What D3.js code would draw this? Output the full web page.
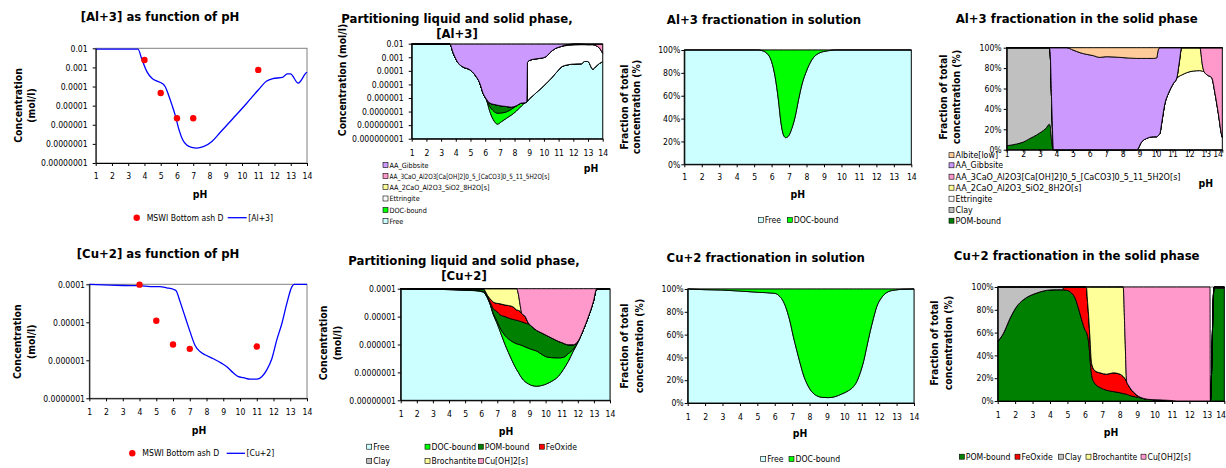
<!DOCTYPE html>
<html lang="en">
<head>
<meta charset="UTF-8">
<title>Al+3 and Cu+2 as function of pH</title>
<style>
body { margin: 0; background: #fff; }
svg text { font-family: "DejaVu Sans Condensed", "DejaVu Sans", sans-serif; fill: #000; }
.title { font-size: 13px; font-weight: bold; }
.axis-title { font-size: 10.4px; font-weight: bold; }
.tick-label { font-size: 8.6px; }
.legend-label { font-size: 8.6px; }
</style>
</head>
<body>
<div id="chart"></div>
<script src="https://cdnjs.cloudflare.com/ajax/libs/d3/7.8.5/d3.min.js"></script>
<script>
// ---------- data ----------
var pHTicks = [1, 2, 3, 4, 5, 6, 7, 8, 9, 10, 11, 12, 13, 14];
var pctTicks = [0, 20, 40, 60, 80, 100];
var pctTickLabels = ["0%", "20%", "40%", "60%", "80%", "100%"];

// [Al+3] as function of pH
var alConcTicks = [1e-2, 1e-3, 1e-4, 1e-5, 1e-6, 1e-7, 1e-8];
var alConcTickLabels = ["0.01", "0.001", "0.0001", "0.00001", "0.000001", "0.0000001", "0.00000001"];
var alLinePH = [1, 3.6, 3.85, 4.15, 4.46, 4.77, 5.07, 5.28, 5.48, 5.69, 5.89, 6.1, 6.36, 6.6, 6.91, 7.21, 7.62, 8.13, 8.64, 9.46, 10.28, 11.0, 11.5, 11.9, 12.5, 12.78, 12.98, 13.46, 13.97, 14];
var alLineConc = [9e-3, 9e-3, 2.5e-3, 6.0e-4, 2.7e-4, 1.9e-4, 1.5e-4, 9.8e-5, 3.6e-5, 1.1e-5, 3.2e-6, 6.5e-7, 1.6e-7, 8.7e-8, 6.6e-8, 6.0e-8, 7.1e-8, 1.3e-7, 3.8e-7, 2.2e-6, 1.3e-5, 6.6e-5, 1.9e-4, 2.6e-4, 3.0e-4, 4.6e-4, 4.6e-4, 1.5e-4, 5.4e-4, 5.6e-4];
var alMeasPH = [4, 5, 6, 7, 11];
var alMeasConc = [2.45e-3, 4.6e-5, 2.2e-6, 2.2e-6, 7.4e-4];

// Partitioning liquid and solid phase, [Al+3]  (mol/l per species)
var alPartTicks = [1e-2, 1e-3, 1e-4, 1e-5, 1e-6, 1e-7, 1e-8, 1e-9];
var alPartTickLabels = ["0.01", "0.001", "0.0001", "0.00001", "0.000001", "0.0000001", "0.00000001", "0.000000001"];
var alPartPH = [1, 2, 3, 3.6, 3.83, 4.17, 4.51, 4.96, 5.3, 5.64, 5.86, 6.09, 6.32, 6.54, 6.84, 7.11, 7.45, 7.79, 8.13, 8.47, 8.7, 8.84, 8.88, 9.03, 9.37, 9.82, 10.16, 10.5, 10.84, 11.18, 11.63, 12.09, 12.54, 12.76, 12.99, 13.33, 13.55, 13.78, 14];
var alPartFree = [9.2e-3, 9.2e-3, 9.2e-3, 9.2e-3, 2.0e-3, 3.7e-4, 1.9e-4, 1.2e-4, 5.1e-5, 1.2e-5, 2.2e-6, 7.2e-7, 1.0e-7, 2.7e-8, 1.2e-8, 1.8e-8, 3.2e-8, 5.6e-8, 1.1e-7, 2.6e-7, 4.4e-7, 5.5e-7, 6.0e-7, 9.3e-7, 1.9e-6, 5.4e-6, 1.2e-5, 2.9e-5, 7.4e-5, 1.9e-4, 2.8e-4, 3.2e-4, 3.3e-4, 4.9e-4, 4.9e-4, 1.35e-4, 2.2e-4, 3.5e-4, 4.9e-4];
var alPartDOC = [0, 0, 0, 0, 0, 0, 0, 0, 0, 0, 0, 5e-8, 1.3e-7, 9e-8, 6.4e-8, 6.1e-8, 6.3e-8, 9.4e-8, 1.5e-7, 1.6e-7, 0, 0, 0, 0, 0, 0, 0, 0, 0, 0, 0, 0, 0, 0, 0, 0, 0, 0, 0];
var alPartPOM = [0, 0, 0, 0, 0, 0, 0, 0, 0, 0, 0, 5e-8, 1.9e-7, 2.3e-7, 2.2e-7, 1.8e-7, 1.4e-7, 6e-8, 1e-8, 0, 0, 0, 0, 0, 0, 0, 0, 0, 0, 0, 0, 0, 0, 0, 0, 0, 0, 0, 0];
var alPartEtt = [0, 0, 0, 0, 0, 0, 0, 0, 0, 0, 0, 0, 0, 0, 0, 0, 0, 0, 0, 0, 0, 0, 4.2e-4, 5.9e-4, 7.4e-4, 8.6e-4, 1.14e-3, 2.7e-3, 4.7e-3, 6.1e-3, 7.3e-3, 8.0e-3, 8.2e-3, 8.0e-3, 8.0e-3, 8.4e-3, 6.9e-3, 4.4e-3, 1.5e-3];
var alPart2CaO = [0, 0, 0, 0, 0, 0, 0, 0, 0, 0, 0, 0, 0, 0, 0, 0, 0, 0, 0, 0, 0, 0, 0, 0, 0, 0, 0, 0, 0, 0, 1.1e-3, 0.9e-3, 0.7e-3, 0.4e-3, 0, 0, 0, 0, 0];
var alPart3CaO = [0, 0, 0, 0, 0, 0, 0, 0, 0, 0, 0, 0, 0, 0, 0, 0, 0, 0, 0, 0, 0, 0, 0, 0, 0, 0, 0, 0, 0, 0, 0, 0, 0, 0.3e-3, 0.7e-3, 0.66e-3, 2.1e-3, 4.4e-3, 7.2e-3];
var alPartGibbsite = [0, 0, 0, 0, 7.2e-3, 8.83e-3, 9.0e-3, 9.08e-3, 9.15e-3, 9.19e-3, 9.2e-3, 9.2e-3, 9.2e-3, 9.2e-3, 9.2e-3, 9.2e-3, 9.2e-3, 9.2e-3, 9.2e-3, 9.2e-3, 9.2e-3, 9.2e-3, 8.78e-3, 8.6e-3, 8.46e-3, 8.33e-3, 8.05e-3, 6.5e-3, 4.4e-3, 2.9e-3, 0.5e-3, 0, 0, 0, 0, 0, 0, 0, 0];

// Al+3 fractionation in solution (%)
var alSolPH = [1, 5.2, 5.44, 5.82, 6.0, 6.2, 6.39, 6.54, 6.68, 6.81, 6.97, 7.16, 7.35, 7.54, 7.73, 8.02, 8.3, 8.69, 9.26, 9.64, 14];
var alSolFree = [100, 100, 99.5, 95.6, 89.8, 76.7, 56.3, 35.9, 25.7, 23.3, 24.8, 31.5, 41.7, 56.3, 69.4, 82.5, 91.3, 97.1, 99.4, 100, 100];
var alSolDOC = [0, 0, 0.5, 4.4, 10.2, 23.3, 43.7, 64.1, 74.3, 76.7, 75.2, 68.5, 58.3, 43.7, 30.6, 17.5, 8.7, 2.9, 0.6, 0, 0];

// Al+3 fractionation in the solid phase (%)
var alSolidPH = [1, 1.6, 2.0, 2.4, 2.8, 3.1, 3.37, 3.57, 3.62, 3.72, 3.82, 4.6, 5.0, 5.42, 5.82, 6.22, 6.62, 7.0, 7.83, 8.84, 9.14, 9.44, 9.84, 10.04, 10.14, 10.24, 10.34, 10.54, 10.75, 11.05, 11.25, 11.4, 11.55, 11.85, 12.25, 12.65, 12.8, 12.9, 13.1, 13.36, 13.56, 13.76, 13.96, 14];
var alSolidPOM = [3.9, 5.6, 7.5, 11, 14.4, 17.6, 21, 25, 23.5, 7, 0, 0, 0, 0, 0, 0, 0, 0, 0, 0, 0, 0, 0, 0, 0, 0, 0, 0, 0, 0, 0, 0, 0, 0, 0, 0, 0, 0, 0, 0, 0, 0, 0, 0];
var alSolidClay = [96.1, 94.4, 92.5, 89, 85.6, 82.4, 79, 75, 71.5, 35, 0, 0, 0, 0, 0, 0, 0, 0, 0, 0, 0, 0, 0, 0, 0, 0, 0, 0, 0, 0, 0, 0, 0, 0, 0, 0, 0, 0, 0, 0, 0, 0, 0, 0];
var alSolidEtt = [0, 0, 0, 0, 0, 0, 0, 0, 0, 0, 0, 0, 0, 0, 0, 0, 0, 0, 0, 0, 7.8, 11.1, 12.7, 12.7, 14, 16, 25.8, 45.4, 55.2, 65, 70, 72, 73.2, 75.5, 77.1, 77.5, 77, 76.5, 73.2, 70.6, 55.2, 35.6, 14.4, 12];
var alSolid2CaO = [0, 0, 0, 0, 0, 0, 0, 0, 0, 0, 0, 0, 0, 0, 0, 0, 0, 0, 0, 0, 0, 0, 0, 0, 0, 0, 0, 0, 0, 0, 0, 13, 26.8, 24.5, 22.9, 22.5, 6, 0, 0, 0, 0, 0, 0, 0];
var alSolid3CaO = [0, 0, 0, 0, 0, 0, 0, 0, 0, 0, 0, 0, 0, 0, 0, 0, 0, 0, 0, 0, 0, 0, 0, 0, 0, 0, 0, 0, 0, 0, 0, 0, 0, 0, 0, 0, 17, 23.5, 26.8, 29.4, 44.8, 64.4, 85.6, 88];
var alSolidGibbsite = [0, 0, 0, 0, 0, 0, 0, 0, 5, 58, 100, 100, 97.7, 95.1, 93.5, 92.2, 90.5, 91.2, 90.5, 89.5, 81.7, 78.4, 76.8, 77.3, 84, 84, 74.2, 54.6, 44.8, 35, 30, 15, 0, 0, 0, 0, 0, 0, 0, 0, 0, 0, 0, 0];
var alSolidAlbite = [0, 0, 0, 0, 0, 0, 0, 0, 0, 0, 0, 0, 2.3, 4.9, 6.5, 7.8, 9.5, 8.8, 9.5, 10.5, 10.5, 10.5, 10.5, 10, 2, 0, 0, 0, 0, 0, 0, 0, 0, 0, 0, 0, 0, 0, 0, 0, 0, 0, 0, 0];

// [Cu+2] as function of pH
var cuConcTicks = [1e-4, 1e-5, 1e-6, 1e-7];
var cuConcTickLabels = ["0.0001", "0.00001", "0.000001", "0.0000001"];
var cuLinePH = [1, 2.24, 3.03, 4.03, 4.63, 5.22, 5.62, 6.02, 6.18, 6.42, 6.72, 7.02, 7.31, 7.61, 7.91, 8.41, 8.91, 9.21, 9.61, 9.9, 10.2, 10.6, 11.0, 11.3, 11.6, 11.9, 12.2, 12.5, 12.8, 13.1, 13.23, 14];
var cuLineConc = [1.0e-4, 9.5e-5, 9.3e-5, 9.2e-5, 8.7e-5, 8.7e-5, 8.1e-5, 7.4e-5, 6.8e-5, 3.5e-5, 1.4e-5, 5.6e-6, 2.5e-6, 1.7e-6, 1.4e-6, 1.1e-6, 8.3e-7, 6.8e-7, 4.6e-7, 3.7e-7, 3.5e-7, 3.2e-7, 3.2e-7, 3.7e-7, 5.6e-7, 1.1e-6, 3.5e-6, 9.3e-6, 3.2e-5, 8.7e-5, 1.0e-4, 1.0e-4];
var cuMeasPH = [4, 5, 6, 7, 11];
var cuMeasConc = [9.8e-5, 1.1e-5, 2.6e-6, 2.0e-6, 2.3e-6];

// Partitioning liquid and solid phase, [Cu+2]  (umol/l per species)
var cuPartTicks = [1e-4, 1e-5, 1e-6, 1e-7, 1e-8];
var cuPartTickLabels = ["0.0001", "0.00001", "0.000001", "0.0000001", "0.00000001"];
var cuPartPH = [1, 2, 3.13, 4.79, 5.62, 6.13, 6.28, 6.4, 6.55, 6.76, 6.96, 7.17, 7.48, 7.69, 8.0, 8.2, 8.31, 8.41, 8.52, 8.72, 8.93, 9.14, 9.45, 9.76, 10.07, 10.38, 10.79, 11.1, 11.41, 11.72, 12.04, 12.35, 12.66, 12.97, 13.17, 14];
var cuPartFree = [99.6, 97.8, 96, 89, 85, 76, 60, 45, 28, 11.5, 6.2, 3.0, 1.0, 0.52, 0.21, 0.126, 0.1, 0.079, 0.063, 0.047, 0.039, 0.034, 0.032, 0.034, 0.039, 0.048, 0.072, 0.126, 0.25, 0.58, 1.3, 3.4, 10, 35, 98, 100];
var cuPartDOC = [0, 0.6, 1.5, 2.2, 2.5, 3, 2.5, 2, 1.5, 1.2, 1.2, 1.0, 1.1, 1.08, 0.99, 0.94, 0.92, 0.9, 0.87, 0.78, 0.70, 0.63, 0.55, 0.41, 0.32, 0.29, 0.26, 0.22, 0.22, 0.1, 0.05, 0.03, 0, 0, 0, 0];
var cuPartPOM = [0.2, 1.2, 2.3, 8.5, 12, 17, 10, 6, 4, 6.3, 8.1, 7.7, 7.9, 7.3, 6.7, 6.33, 6.1, 5.8, 5.6, 5.07, 4.66, 3.8, 2.6, 2.15, 1.74, 1.36, 0.97, 0.77, 0.51, 0.3, 0.05, 0.02, 0, 0, 0, 0];
var cuPartFe = [0, 0, 0, 0.2, 0.4, 3.8, 3, 3.5, 10, 14, 14.5, 17.1, 16, 16.1, 14, 10, 9.5, 8.7, 6.5, 4.4, 0.5, 0, 0, 0, 0, 0, 0, 0, 0, 0, 0, 0, 0, 0, 0, 0];
var cuPartClay = [0.2, 0.4, 0.2, 0.1, 0.1, 0.2, 0, 0, 0, 0, 0, 0, 0, 0, 0, 0, 0, 0, 0, 0, 0, 0, 0, 0, 0, 0, 0, 0, 0, 0, 0, 0, 0, 0, 0, 0];
var cuPartBroch = [0, 0, 0, 0, 0, 0, 24.5, 43.5, 56.5, 67, 70, 71.2, 74, 75, 78.1, 82.6, 46.4, 12.5, 0, 0, 0, 0, 0, 0, 0, 0, 0, 0, 0, 0, 0, 0, 0, 0, 0, 0];
var cuPartCuOH = [0, 0, 0, 0, 0, 0, 0, 0, 0, 0, 0, 0, 0, 0, 0, 0, 37, 72, 87, 89.7, 94.1, 95.5, 96.8, 97.4, 97.9, 98.3, 98.7, 98.9, 99.0, 99.0, 98.6, 96.55, 90, 65, 2, 0];

// Cu+2 fractionation in solution (%)
var cuSolPH = [1, 2, 2.95, 4, 5.06, 6, 6.3, 6.5, 6.69, 6.88, 7.07, 7.26, 7.46, 7.65, 7.84, 8.13, 8.41, 8.7, 9.08, 9.47, 9.85, 10.23, 10.52, 10.71, 10.9, 11.1, 11.29, 11.48, 11.67, 11.86, 12.15, 12.53, 12.92, 13.3, 14];
var cuSolFree = [100, 99.4, 99.1, 98.2, 97.1, 96.2, 93.3, 88.9, 81.6, 71.3, 58.2, 46.5, 34.8, 24.6, 17.3, 9.9, 6.4, 5.0, 4.7, 5.6, 7.9, 10.8, 14.3, 18.7, 26.0, 36.3, 49.4, 62.6, 74.3, 84.5, 92.7, 97.7, 99.1, 99.7, 100];
var cuSolDOC = [0, 0.6, 0.9, 1.8, 2.9, 3.8, 6.7, 11.1, 18.4, 28.7, 41.8, 53.5, 65.2, 75.4, 82.7, 90.1, 93.6, 95.0, 95.3, 94.4, 92.1, 89.2, 85.7, 81.3, 74.0, 63.7, 50.6, 37.4, 25.7, 15.5, 7.3, 2.3, 0.9, 0.3, 0];

// Cu+2 fractionation in the solid phase (%)
var cuSolidPH = [1, 1.33, 1.71, 2.09, 2.47, 2.85, 3.24, 3.62, 4.0, 4.38, 4.67, 4.86, 4.96, 5.24, 5.44, 5.63, 5.82, 6.01, 6.1, 6.14, 6.22, 6.26, 6.3, 6.35, 6.41, 6.58, 6.87, 7.25, 7.63, 8.02, 8.2, 8.3, 8.4, 8.5, 8.69, 8.88, 9.07, 9.36, 9.74, 10.12, 10.89, 11.27, 13.18, 13.2, 13.41, 14];
var cuSolidPOM = [52, 59.4, 72.6, 82.9, 88.8, 92.4, 94.7, 96.5, 97.4, 97.6, 97.6, 97.3, 97.1, 94.7, 90.3, 81.5, 71.2, 62.4, 60, 57.9, 51, 44.7, 36, 28, 21, 15.3, 11.8, 9.4, 8.3, 7.2, 6.5, 6.2, 5.9, 5.3, 4.3, 3.7, 3.2, 2.0, 1.3, 1.0, 0.5, 0, 0, 0, 99, 99];
var cuSolidFe = [0, 0, 0, 0, 0, 0, 0, 0, 0, 0, 0, 2.7, 2.9, 5.3, 9.7, 18.5, 28.8, 37.6, 39, 32.4, 23, 19.1, 17.5, 10.8, 10.5, 11.2, 12.9, 14.1, 16.4, 16.3, 15, 13.5, 10.9, 8.5, 5.1, 2.8, 0.9, 0.3, 0, 0, 0, 0, 0, 0, 0, 0];
var cuSolidClay = [48, 40.6, 27.4, 17.1, 11.2, 7.6, 5.3, 3.5, 2.6, 2.4, 2.4, 0, 0, 0, 0, 0, 0, 0, 0, 0, 0, 0, 0, 0, 0, 0, 0, 0, 0, 0, 0, 0, 0, 0, 0, 0, 0, 0, 0, 0, 0, 0, 0, 0, 1, 1];
var cuSolidBroch = [0, 0, 0, 0, 0, 0, 0, 0, 0, 0, 0, 0, 0, 0, 0, 0, 0, 0, 1, 9.7, 26, 36.2, 46.5, 61.2, 68.5, 73.5, 75.3, 76.5, 75.3, 76.5, 78.5, 38.8, 0, 0, 0, 0, 0, 0, 0, 0, 0, 0, 0, 0, 0, 0];
var cuSolidCuOH = [0, 0, 0, 0, 0, 0, 0, 0, 0, 0, 0, 0, 0, 0, 0, 0, 0, 0, 0, 0, 0, 0, 0, 0, 0, 0, 0, 0, 0, 0, 0, 41.5, 83.2, 86.2, 90.6, 93.5, 95.9, 97.7, 98.7, 99, 99.5, 100, 100, 0, 0, 0];

// ---------- styling ----------
var col = {
  free: "#ccffff", doc: "#00ff00", pom: "#008000", fe: "#ff0000", clay: "#c0c0c0",
  broch: "#ffff99", cuoh: "#ff99cc", gibbsite: "#cc99ff", ca3: "#ff99cc", ca2: "#ffff99",
  ett: "#ffffff", albite: "#ffcc99"
};

var svg = d3.select("#chart").append("svg").attr("width", 1226).attr("height", 468);

function makePanel(c) {
  var x = d3.scaleLinear().domain([1, 14]).range([c.left, c.right]);
  var y = c.log
    ? d3.scaleLog().domain(c.yDomain).range([c.bottom, c.top]).clamp(true)
    : d3.scaleLinear().domain([0, 100]).range([c.bottom, c.top]);
  var g = svg.append("g");
  g.append("rect")
    .attr("x", c.left).attr("y", c.top)
    .attr("width", c.right - c.left).attr("height", c.bottom - c.top)
    .attr("fill", "#fff").attr("stroke", "#808080").attr("stroke-width", 1);
  return { c: c, x: x, y: y, g: g };
}

function drawStack(p, ph, layers) {
  var keys = layers.map(function (l, i) { return "k" + i; });
  var rows = ph.map(function (v, i) {
    var r = { pH: v };
    layers.forEach(function (l, j) { r["k" + j] = l.values[i]; });
    return r;
  });
  var series = d3.stack().keys(keys)(rows);
  var lo = p.y.domain()[0];
  var area = d3.area()
    .x(function (d) { return p.x(d.data.pH); })
    .y0(function (d) { return p.y(Math.max(d[0], lo)); })
    .y1(function (d) { return p.y(Math.max(d[1], lo)); })
    .curve(d3.curveMonotoneX);
  p.g.append("g").selectAll("path").data(series).enter().append("path")
    .attr("d", area)
    .attr("fill", function (s, i) { return layers[i].color; })
    .attr("stroke", "#000").attr("stroke-width", 0.9).attr("stroke-linejoin", "round");
}

function drawLine(p, ph, vals, meas, measVals) {
  var line = d3.line()
    .x(function (d, i) { return p.x(ph[i]); })
    .y(function (d) { return p.y(d); })
    .curve(d3.curveMonotoneX);
  p.g.append("path").datum(vals).attr("d", line)
    .attr("fill", "none").attr("stroke", "#0000ff").attr("stroke-width", 1.3);
  p.g.selectAll(null).data(measVals).enter().append("circle")
    .attr("cx", function (d, i) { return p.x(meas[i]); })
    .attr("cy", function (d) { return p.y(d); })
    .attr("r", 3.2).attr("fill", "#ff0000");
}

function drawAxes(p, yVals, yLabels) {
  var c = p.c;
  var xa = p.g.append("g").attr("transform", "translate(0," + c.bottom + ")")
    .call(d3.axisBottom(p.x).tickValues(pHTicks).tickSize(3).tickSizeOuter(0).tickFormat(d3.format("d")));
  xa.selectAll("text").attr("y", c.xLabY).attr("dy", null).attr("class", "tick-label");
  if (c.lastTickEndX) {
    // keep the last pH label inside the page
    xa.selectAll("text").filter(function (d) { return d === 14; })
      .attr("text-anchor", "end").attr("x", c.lastTickEndX - c.right);
  }
  var ya = p.g.append("g").attr("transform", "translate(" + c.left + ",0)")
    .call(d3.axisLeft(p.y).tickValues(yVals).tickSize(3).tickSizeOuter(0).tickPadding(c.yPad)
      .tickFormat(function (d, i) { return yLabels[i]; }));
  ya.selectAll("text").attr("class", "tick-label");
  [xa, ya].forEach(function (a) {
    a.attr("font-family", null).attr("font-size", null);
    a.select(".domain").attr("stroke", "#000");
    a.selectAll(".tick line").attr("stroke", "#000");
  });
}

function drawTexts(c) {
  c.title.forEach(function (t, i) {
    svg.append("text").attr("class", "title").attr("text-anchor", "middle")
      .attr("x", c.titleX).attr("y", c.titleY[i]).text(t);
  });
  c.yTitle.forEach(function (t, i) {
    svg.append("text").attr("class", "axis-title").attr("text-anchor", "middle")
      .attr("transform", "translate(" + c.yTitleX[i] + "," + c.yTitleY + ") rotate(-90)")
      .attr("dy", "0.35em").text(t);
  });
  svg.append("text").attr("class", "axis-title").attr("text-anchor", "middle")
    .attr("x", c.pHX).attr("y", c.pHY).text("pH");
}

function legendBox(x, y, color, label, size, width) {
  svg.append("rect").attr("x", x).attr("y", y - 2.5).attr("width", 5).attr("height", 5)
    .attr("fill", color).attr("stroke", "#000").attr("stroke-width", 0.6);
  var t = svg.append("text").attr("class", "legend-label").attr("x", x + 6.5).attr("y", y)
    .attr("dy", "0.35em").text(label);
  if (size) t.style("font-size", size + "px");
  if (width) t.attr("textLength", width).attr("lengthAdjust", "spacingAndGlyphs");
}

function legendLine(dotX, y, lineX0, lineX1, seriesLabel, measLabel) {
  svg.append("circle").attr("cx", dotX).attr("cy", y).attr("r", 3.2).attr("fill", "#ff0000");
  svg.append("text").attr("class", "legend-label").attr("x", dotX + 10).attr("y", y).attr("dy", "0.35em").text(measLabel);
  svg.append("line").attr("x1", lineX0).attr("x2", lineX1).attr("y1", y).attr("y2", y)
    .attr("stroke", "#0000ff").attr("stroke-width", 1.3);
  svg.append("text").attr("class", "legend-label").attr("x", lineX1 + 1.5).attr("y", y).attr("dy", "0.35em").text(seriesLabel);
}

// ---------- panel 1: [Al+3] ----------
var c1 = { left: 95.7, right: 307, top: 48.3, bottom: 163, log: true, yDomain: [1e-8, 1e-2], yPad: 5, xLabY: 16,
  title: ["[Al+3] as function of pH"], titleX: 160, titleY: [21],
  yTitle: ["Concentration", "(mol/l)"], yTitleX: [18.3, 31], yTitleY: 105.5, pHX: 200, pHY: 198 };
var p1 = makePanel(c1);
drawLine(p1, alLinePH, alLineConc, alMeasPH, alMeasConc);
drawAxes(p1, alConcTicks, alConcTickLabels);
drawTexts(c1);
legendLine(136.7, 217.7, 227.7, 246.7, "[Al+3]", "MSWI Bottom ash D");

// ---------- panel 2: partitioning Al ----------
var c2 = { left: 411.7, right: 602.7, top: 43.7, bottom: 138.7, log: true, yDomain: [1e-9, 1e-2], yPad: 5, xLabY: 17,
  title: ["Partitioning liquid and solid phase,", "[Al+3]"], titleX: 457, titleY: [22.5, 38],
  yTitle: ["Concentration (mol/l)"], yTitleX: [342], yTitleY: 80, pHX: 591, pHY: 172 };
var p2 = makePanel(c2);
drawStack(p2, alPartPH, [
  { values: alPartFree, color: col.free },
  { values: alPartDOC, color: col.doc },
  { values: alPartPOM, color: col.pom },
  { values: alPartEtt, color: col.ett },
  { values: alPart2CaO, color: col.ca2 },
  { values: alPart3CaO, color: col.ca3 },
  { values: alPartGibbsite, color: col.gibbsite }
]);
drawAxes(p2, alPartTicks, alPartTickLabels);
drawTexts(c2);
var alPartLegend = ["AA_Gibbsite", "AA_3CaO_Al2O3[Ca[OH]2]0_5_[CaCO3]0_5_11_5H2O[s]", "AA_2CaO_Al2O3_SiO2_8H2O[s]", "Ettringite", "DOC-bound", "Free"];
var alPartLegendCol = [col.gibbsite, col.ca3, col.ca2, col.ett, col.doc, col.free];
var alPartLegendW = [0, 160, 100, 0, 0, 0];
[165, 176, 187, 198.5, 210, 221].forEach(function (y, i) {
  legendBox(383, y, alPartLegendCol[i], alPartLegend[i], 7.2, alPartLegendW[i]);
});

// ---------- panel 3: Al in solution ----------
var c3 = { left: 684.3, right: 911.3, top: 50, bottom: 164.3, log: false, yPad: 1, xLabY: 16,
  title: ["Al+3 fractionation in solution"], titleX: 764, titleY: [24],
  yTitle: ["Fraction of total", "concentration (%)"], yTitleX: [624, 636.7], yTitleY: 107, pHX: 797.7, pHY: 198 };
var p3 = makePanel(c3);
drawStack(p3, alSolPH, [
  { values: alSolFree, color: col.free },
  { values: alSolDOC, color: col.doc }
]);
drawAxes(p3, pctTicks, pctTickLabels);
drawTexts(c3);
legendBox(758.3, 220, col.free, "Free");
legendBox(787.3, 220, col.doc, "DOC-bound");

// ---------- panel 4: Al in solid phase ----------
var c4 = { left: 1006.7, right: 1222.3, top: 47.7, bottom: 149.7, log: false, yPad: 2, xLabY: 7, lastTickEndX: 1222.5,
  title: ["Al+3 fractionation in the solid phase"], titleX: 1076.7, titleY: [22.5],
  yTitle: ["Fraction of total", "concentration (%)"], yTitleX: [943, 956.7], yTitleY: 97, pHX: 1205.7, pHY: 187 };
var p4 = makePanel(c4);
drawStack(p4, alSolidPH, [
  { values: alSolidPOM, color: col.pom },
  { values: alSolidClay, color: col.clay },
  { values: alSolidEtt, color: col.ett },
  { values: alSolid2CaO, color: col.ca2 },
  { values: alSolid3CaO, color: col.ca3 },
  { values: alSolidGibbsite, color: col.gibbsite },
  { values: alSolidAlbite, color: col.albite }
]);
drawAxes(p4, pctTicks, pctTickLabels);
drawTexts(c4);
var alSolidLegend = ["Albite[low]", "AA_Gibbsite", "AA_3CaO_Al2O3[Ca[OH]2]0_5_[CaCO3]0_5_11_5H2O[s]", "AA_2CaO_Al2O3_SiO2_8H2O[s]", "Ettringite", "Clay", "POM-bound"];
var alSolidLegendCol = [col.albite, col.gibbsite, col.ca3, col.ca2, col.ett, col.clay, col.pom];
var alSolidLegendW = [0, 0, 225, 126, 0, 0, 0];
[155.2, 165.3, 176.7, 187.7, 198.7, 210, 220.7].forEach(function (y, i) {
  legendBox(949, y, alSolidLegendCol[i], alSolidLegend[i], 8.8, alSolidLegendW[i]);
});

// ---------- panel 5: [Cu+2] ----------
var c5 = { left: 89.3, right: 307, top: 284.3, bottom: 398.3, log: true, yDomain: [1e-7, 1e-4], yPad: 1.3, xLabY: 16.7,
  title: ["[Cu+2] as function of pH"], titleX: 158, titleY: [258],
  yTitle: ["Concentration", "(mol/l)"], yTitleX: [17.3, 31.7], yTitleY: 341.7, pHX: 199, pHY: 434 };
var p5 = makePanel(c5);
drawLine(p5, cuLinePH, cuLineConc, cuMeasPH, cuMeasConc);
drawAxes(p5, cuConcTicks, cuConcTickLabels);
drawTexts(c5);
legendLine(132.3, 453.3, 226.7, 245, "[Cu+2]", "MSWI Bottom ash D");

// ---------- panel 6: partitioning Cu ----------
function umol(a) { return a.map(function (v) { return v * 1e-6; }); }
var c6 = { left: 400.7, right: 610, top: 288.7, bottom: 400.3, log: true, yDomain: [1e-8, 1e-4], yPad: 1.7, xLabY: 16.7,
  title: ["Partitioning liquid and solid phase,", "[Cu+2]"], titleX: 464, titleY: [265, 280],
  yTitle: ["Concentration", "(mol/l)"], yTitleX: [323.8, 337.5], yTitleY: 343, pHX: 506, pHY: 435 };
var p6 = makePanel(c6);
drawStack(p6, cuPartPH, [
  { values: umol(cuPartFree), color: col.free },
  { values: umol(cuPartDOC), color: col.doc },
  { values: umol(cuPartPOM), color: col.pom },
  { values: umol(cuPartFe), color: col.fe },
  { values: umol(cuPartClay), color: col.clay },
  { values: umol(cuPartBroch), color: col.broch },
  { values: umol(cuPartCuOH), color: col.cuoh }
]);
drawAxes(p6, cuPartTicks, cuPartTickLabels);
drawTexts(c6);
legendBox(366.7, 446.7, col.free, "Free");
legendBox(425, 446.7, col.doc, "DOC-bound");
legendBox(478.3, 446.7, col.pom, "POM-bound");
legendBox(539.3, 446.7, col.fe, "FeOxide");
legendBox(366.7, 461, col.clay, "Clay");
legendBox(425, 461, col.broch, "Brochantite");
legendBox(478.3, 461, col.cuoh, "Cu[OH]2[s]");

// ---------- panel 7: Cu in solution ----------
var c7 = { left: 687.7, right: 914, top: 289, bottom: 403, log: false, yPad: 1, xLabY: 17,
  title: ["Cu+2 fractionation in solution"], titleX: 765.7, titleY: [262],
  yTitle: ["Fraction of total", "concentration (%)"], yTitleX: [624.3, 639], yTitleY: 346, pHX: 800, pHY: 437 };
var p7 = makePanel(c7);
drawStack(p7, cuSolPH, [
  { values: cuSolFree, color: col.free },
  { values: cuSolDOC, color: col.doc }
]);
drawAxes(p7, pctTicks, pctTickLabels);
drawTexts(c7);
legendBox(760.7, 459, col.free, "Free");
legendBox(789, 459, col.doc, "DOC-bound");

// ---------- panel 8: Cu in solid phase ----------
var c8 = { left: 997.7, right: 1224.3, top: 287, bottom: 401, log: false, yPad: 1, xLabY: 17, lastTickEndX: 1225.5,
  title: ["Cu+2 fractionation in the solid phase"], titleX: 1076.7, titleY: [260],
  yTitle: ["Fraction of total", "concentration (%)"], yTitleX: [934, 948], yTitleY: 343, pHX: 1111, pHY: 435.5 };
var p8 = makePanel(c8);
drawStack(p8, cuSolidPH, [
  { values: cuSolidPOM, color: col.pom },
  { values: cuSolidFe, color: col.fe },
  { values: cuSolidClay, color: col.clay },
  { values: cuSolidBroch, color: col.broch },
  { values: cuSolidCuOH, color: col.cuoh }
]);
drawAxes(p8, pctTicks, pctTickLabels);
drawTexts(c8);
var cuSolidLegend = ["POM-bound", "FeOxide", "Clay", "Brochantite", "Cu[OH]2[s]"];
var cuSolidLegendCol = [col.pom, col.fe, col.clay, col.broch, col.cuoh];
[959.3, 1015, 1058.3, 1086, 1141].forEach(function (x, i) { legendBox(x, 456.7, cuSolidLegendCol[i], cuSolidLegend[i]); });
</script>
</body>
</html>
